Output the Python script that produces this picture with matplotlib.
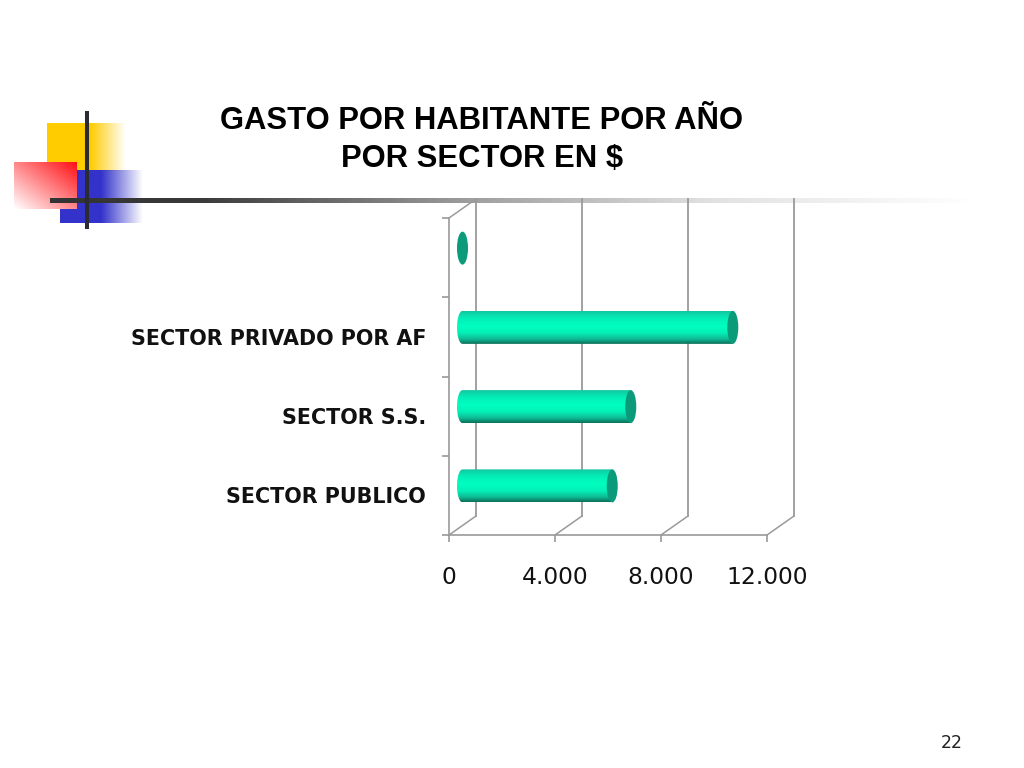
import numpy as np
import matplotlib
matplotlib.use("Agg")
import matplotlib.pyplot as plt
import matplotlib.patches as mpatches
from matplotlib.path import Path
from matplotlib.colors import LinearSegmentedColormap, to_rgb

# datos
categories = ["SECTOR PUBLICO", "SECTOR S.S.", "SECTOR PRIVADO POR AF", ""]
values = [5650, 6350, 10200, 0]
xticks = [0, 4000, 8000, 12000]
xtick_labels = ["0", "4.000", "8.000", "12.000"]
title_lines = ["GASTO POR HABITANTE POR AÑO", "POR SECTOR EN $"]
page_number = "22"

W, H = 1024, 768
GRID = "#9a9a9a"

fig = plt.figure(figsize=(W / 100, H / 100), dpi=100, facecolor="white")

# fondo de la diapositiva, en pixeles
bg = fig.add_axes([0, 0, 1, 1], zorder=0)
bg.set_xlim(0, W)
bg.set_ylim(H, 0)
bg.axis("off")


def fade_rect(x0, x1, y0, y1, color, solid=0.0, diagonal=False, zorder=0):
    """Rectangulo de color que se desvanece hacia la derecha"""
    n = 120
    rgba = np.ones((n, n, 4))
    rgba[..., :3] = to_rgb(color)
    u, v = np.meshgrid(np.linspace(0, 1, n), np.linspace(0, 1, n))
    if diagonal:
        # rojo: opaco arriba a la derecha, transparente abajo a la izquierda
        a = np.clip(0.5 * u + 0.5 * (1 - v), 0, 1)
    else:
        a = np.clip((1 - u) / (1 - solid), 0, 1)
    rgba[..., 3] = a
    bg.imshow(rgba, extent=(x0, x1, y1, y0), aspect="auto",
              interpolation="bilinear", zorder=zorder)


fade_rect(47, 126, 123, 171, "#ffcc00", solid=0.55)
fade_rect(60, 143, 170, 223, "#3333cc", solid=0.5)
bg.add_patch(mpatches.Rectangle((14, 162), 63, 47, color="white", lw=0, zorder=1))
fade_rect(14, 77, 162, 209, "#ff0f14", diagonal=True, zorder=2)

# linea horizontal con degradado
line_cmap = LinearSegmentedColormap.from_list(
    "linea", [(0, "#333333"), (0.16, "#3a3a3a"), (0.46, "#a0a0a0"),
              (0.72, "#e2e2e2"), (1, "#ffffff")], N=256)
bg.imshow(np.linspace(0, 1, 400).reshape(1, -1), cmap=line_cmap,
          extent=(50, 975, 203.5, 198.5), aspect="auto", zorder=3)
bg.plot([87, 87], [111, 229], color="#2b2b33", lw=2.9, solid_capstyle="butt", zorder=4)
bg.set_xlim(0, W)
bg.set_ylim(H, 0)

bg.text(482, 129, title_lines[0], ha="center", va="baseline", fontsize=22.3,
        family="Liberation Sans", fontweight="bold", color="black")
bg.text(482, 167, title_lines[1], ha="center", va="baseline", fontsize=22.3,
        family="Liberation Sans", fontweight="bold", color="black")
bg.text(952, 743, page_number, ha="center", va="center", fontsize=12.5,
        family="DejaVu Sans", color="#222222")

# grafico: el plano frontal va de x=449 a 767 y de y=218 a 535
ax = fig.add_axes([449 / W, 1 - 535 / H, 318 / W, 317 / H], zorder=2)
ax.patch.set_alpha(0)
ax.set_xlim(0, 12000)
ax.set_ylim(-0.5, 3.5)
for s in ["top", "right"]:
    ax.spines[s].set_visible(False)
for s in ["left", "bottom"]:
    ax.spines[s].set_color(GRID)
    ax.spines[s].set_linewidth(1.2)

# profundidad 3D en unidades de datos
dx = 27 / 318 * 12000
dy = 19 / 317 * 4

for t in xticks:
    ax.plot([t, t + dx], [-0.5, -0.5 + dy], color=GRID, lw=1.1, clip_on=False, zorder=1)
    ax.plot([t + dx, t + dx], [-0.5 + dy, 3.5 + dy], color=GRID, lw=1.3, clip_on=False, zorder=1)
ax.plot([0, dx], [3.5, 3.5 + dy], color=GRID, lw=1.1, clip_on=False, zorder=1)

ax.set_xticks(xticks)
ax.set_xticklabels(xtick_labels, family="DejaVu Sans", fontsize=16.8, color="#111111")
ax.tick_params(axis="x", length=5, width=1.2, color=GRID, pad=17)
ax.set_yticks(np.arange(-0.5, 4, 1))
ax.set_yticklabels([])
ax.tick_params(axis="y", which="major", length=5, width=1.2, color=GRID)
ax.set_yticks(np.arange(len(categories)), minor=True)
ax.set_yticklabels(categories, minor=True, family="DejaVu Sans", fontweight="bold",
                   fontsize=14.85, color="#111111")
ax.tick_params(axis="y", which="minor", length=0, pad=16.5)

bar_cmap = LinearSegmentedColormap.from_list(
    "cilindro", [(0, "#10c8a0"), (0.22, "#05eeb8"), (0.45, "#00ffc0"),
                 (0.66, "#04f0b8"), (0.86, "#0fb893"), (1, "#0a6f58")])

bar_h = 33 / 317 * 4
cap_w = 11 / 318 * 12000
gradient = np.linspace(0, 1, 100).reshape(-1, 1)

for i, val in enumerate(values):
    x0 = dx / 2
    x1 = x0 + val
    yc = i + dy / 2
    ry = bar_h / 2
    if val > 0:
        # contorno: rectangulo con el extremo izquierdo redondeado
        t = np.linspace(np.pi / 2, 3 * np.pi / 2, 30)
        px = np.concatenate([[x1], x0 + cap_w / 2 * np.cos(t), [x1]])
        py = np.concatenate([[yc + ry], yc + ry * np.sin(t), [yc - ry]])
        im = ax.imshow(gradient, cmap=bar_cmap, aspect="auto", zorder=3,
                       extent=(x0 - cap_w, x1, yc - ry, yc + ry), origin="upper")
        im.set_clip_path(Path(np.column_stack([px, py])), ax.transData)
    ax.add_patch(mpatches.Ellipse((x1, yc), cap_w, bar_h, facecolor="#0b9a7a",
                                  edgecolor="none", zorder=4, clip_on=False))

ax.set_xlim(0, 12000)
ax.set_ylim(-0.5, 3.5)

fig.savefig("out.png", dpi=100)
